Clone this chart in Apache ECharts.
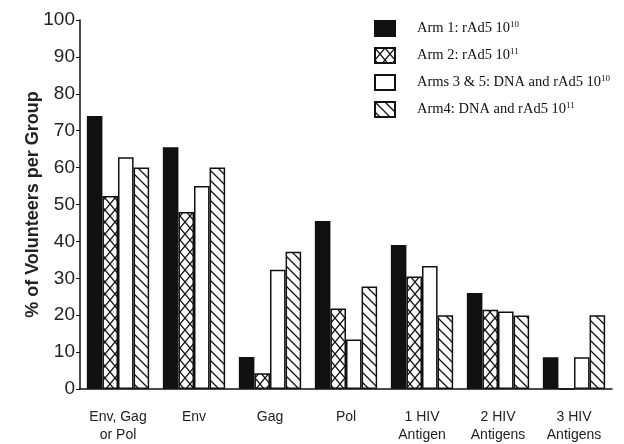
<!DOCTYPE html>
<html>
<head>
<meta charset="utf-8">
<script src="https://cdn.jsdelivr.net/npm/echarts@6/dist/echarts.min.js"></script>
<style>
  html, body { margin: 0; padding: 0; background: #fff; }
  #chart { width: 624px; height: 444px; }
</style>
</head>
<body>
<div id="chart"></div>
<script>
const categories = ['Env, Gag\nor Pol', 'Env', 'Gag', 'Pol', '1 HIV\nAntigen', '2 HIV\nAntigens', '3 HIV\nAntigens']
const arm1 = [74, 65.5, 8.7, 45.5, 39, 26, 8.6]
const arm2 = [52.3, 48, 4.3, 21.8, 30.5, 21.5, 0]
const arms35 = [62.8, 55, 32.3, 13.4, 33.3, 21, 8.6]
const arm4 = [60, 60, 37.2, 27.8, 20, 19.9, 20]
const yTicks = { min: 0, max: 100, interval: 10 }

// hatch fills drawn on small canvases
const makePattern = (w, h, draw) => {
  const c = document.createElement('canvas')
  c.width = w
  c.height = h
  const ctx = c.getContext('2d')
  ctx.fillStyle = '#fff'
  ctx.fillRect(0, 0, w, h)
  ctx.strokeStyle = '#111'
  ctx.lineWidth = 1.3
  draw(ctx, w, h)
  return c
}

const crossPattern = makePattern(10, 12, (ctx, w, h) => {
  ctx.beginPath()
  ctx.moveTo(0, 0); ctx.lineTo(w, h)
  ctx.moveTo(w, 0); ctx.lineTo(0, h)
  ctx.stroke()
})

const diagPattern = makePattern(10, 10, (ctx, w, h) => {
  ctx.beginPath()
  ctx.moveTo(-2, -2); ctx.lineTo(w + 2, h + 2)
  ctx.moveTo(-2, h - 2); ctx.lineTo(2, h + 2)
  ctx.moveTo(w - 2, -2); ctx.lineTo(w + 2, 2)
  ctx.stroke()
})

const fills = [
  '#111',
  { image: crossPattern, repeat: 'repeat' },
  '#fff',
  { image: diagPattern, repeat: 'repeat' }
]

const legendNames = ['Arm 1', 'Arm 2', 'Arms 3 & 5', 'Arm4']
const legendLabels = {
  'Arm 1': 'Arm 1: rAd5 10{sup|10}',
  'Arm 2': 'Arm 2: rAd5 10{sup|11}',
  'Arms 3 & 5': 'Arms 3 & 5: DNA and rAd5 10{sup|10}',
  'Arm4': 'Arm4: DNA and rAd5 10{sup|11}'
}
const seriesData = [arm1, arm2, arms35, arm4]

const chart = echarts.init(document.getElementById('chart'))

chart.setOption({
  backgroundColor: '#fff',
  animation: false,
  grid: { left: 80, right: 12, top: 20, bottom: 53 },
  legend: {
    orient: 'vertical',
    left: 369,
    top: 15,
    itemWidth: 20,
    itemHeight: 15,
    itemGap: 10,
    icon: 'rect',
    data: legendNames,
    formatter: (name) => legendLabels[name],
    textStyle: {
      fontFamily: 'Liberation Serif',
      fontSize: 14.5,
      color: '#111',
      padding: [0, 0, 0, 17],
      rich: {
        sup: { fontFamily: 'Liberation Serif', fontSize: 9, color: '#111', verticalAlign: 'top', padding: [0, 0, 7, 0] }
      }
    }
  },
  xAxis: {
    type: 'category',
    data: categories,
    axisLine: { lineStyle: { color: '#111', width: 1.5 } },
    axisTick: { show: false },
    axisLabel: {
      color: '#222',
      fontFamily: 'Liberation Sans',
      fontSize: 14,
      lineHeight: 18,
      margin: 19,
      interval: 0
    }
  },
  yAxis: {
    type: 'value',
    min: yTicks.min,
    max: yTicks.max,
    interval: yTicks.interval,
    name: '% of Volunteers per Group',
    nameLocation: 'middle',
    nameGap: 38,
    nameMoveOverlap: false,
    nameTextStyle: {
      fontFamily: 'Liberation Sans',
      fontWeight: 'bold',
      fontSize: 18,
      color: '#222'
    },
    axisLine: { show: true, lineStyle: { color: '#111', width: 1.5 } },
    axisTick: { show: true, length: 4, lineStyle: { color: '#111' } },
    splitLine: { show: false },
    axisLabel: {
      color: '#222',
      fontFamily: 'Liberation Sans',
      fontSize: 19,
      margin: 5
    }
  },
  series: legendNames.map((name, i) => ({
    name,
    type: 'bar',
    data: seriesData[i],
    barGap: '0%',
    barCategoryGap: '18%',
    itemStyle: {
      color: fills[i],
      borderColor: '#111',
      borderWidth: 1.5
    }
  }))
})
</script>
</body>
</html>
